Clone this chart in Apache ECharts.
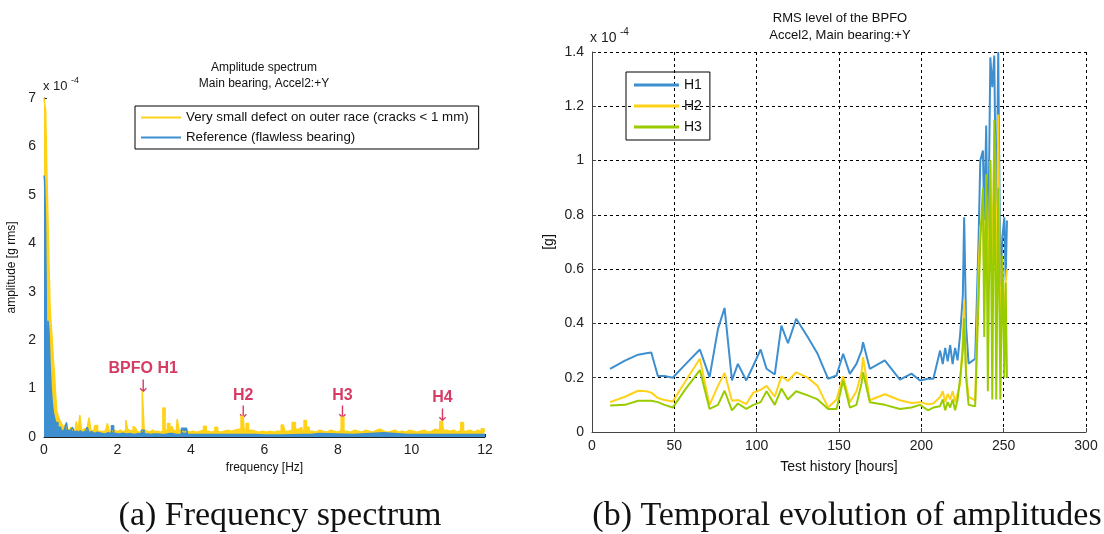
<!DOCTYPE html>
<html>
<head>
<meta charset="utf-8">
<title>BPFO spectrum</title>
<script src="https://cdn.jsdelivr.net/npm/echarts/dist/echarts.min.js"></script>
</head>
<body style="margin:0;background:#fff">
<div id="main" style="width:1104px;height:534px;"></div>
<script type="text/javascript">
// amplitude spectrum, values in 1e-4 g rms : [frequency Hz, amplitude]
var specDefect = [
  [0,7.0],[0.03,6.9],[0.06,6.75],[0.09,5.6],[0.12,4.6],[0.15,3.6],[0.18,2.7],[0.21,2.3],[0.24,2.0],[0.27,1.6],
  [0.3,1.3],[0.33,0.9],[0.36,0.55],[0.4,0.45],[0.45,0.35],[0.5,0.28],[0.55,0.2],[0.6,0.25],[0.65,0.17],[0.7,0.14],
  [0.75,0.2],[0.8,0.15],[0.85,0.13],[0.9,0.32],[0.95,0.14],[1.0,0.45],[1.05,0.13],[1.1,0.17],[1.15,0.14],[1.2,0.2],
  [1.25,0.4],[1.3,0.14],[1.35,0.12],[1.42,0.24],[1.5,0.12],[1.55,0.14],[1.6,0.11],[1.65,0.13],[1.7,0.12],[1.75,0.28],
  [1.8,0.12],[1.85,0.11],[1.9,0.14],[1.95,0.12],[2.0,0.11],[2.05,0.14],[2.1,0.12],[2.15,0.1],[2.2,0.14],[2.25,0.35],
  [2.3,0.16],[2.35,0.12],[2.4,0.14],[2.45,0.22],[2.5,0.18],[2.55,0.12],[2.6,0.1],[2.65,0.12],[2.7,0.95],[2.75,0.16],
  [2.8,0.12],[2.85,0.1],[2.9,0.12],[2.95,0.14],[3.0,0.11],[3.05,0.1],[3.1,0.12],[3.15,0.1],[3.2,0.12],[3.27,0.6],
  [3.32,0.14],[3.4,0.28],[3.45,0.12],[3.5,0.22],[3.55,0.14],[3.6,0.12],[3.65,0.37],[3.7,0.14],[3.75,0.12],[3.8,0.1],
  [3.85,0.14],[3.9,0.12],[3.95,0.1],[4.0,0.12],[4.1,0.1],[4.2,0.12],[4.3,0.14],[4.38,0.22],[4.45,0.12],[4.5,0.1],
  [4.6,0.12],[4.7,0.2],[4.75,0.12],[4.8,0.1],[4.9,0.12],[5.0,0.14],[5.1,0.12],[5.2,0.14],[5.3,0.16],[5.42,0.43],
  [5.47,0.16],[5.53,0.28],[5.6,0.14],[5.7,0.12],[5.8,0.1],[5.9,0.12],[6.0,0.1],[6.1,0.12],[6.2,0.1],[6.3,0.12],
  [6.4,0.12],[6.51,0.25],[6.6,0.12],[6.7,0.14],[6.8,0.3],[6.88,0.16],[6.98,0.2],[7.05,0.14],[7.1,0.34],[7.18,0.2],
  [7.25,0.12],[7.35,0.1],[7.45,0.14],[7.55,0.12],[7.65,0.1],[7.75,0.14],[7.85,0.12],[7.95,0.1],[8.05,0.14],[8.12,0.41],
  [8.2,0.12],[8.3,0.1],[8.4,0.14],[8.5,0.12],[8.6,0.1],[8.7,0.14],[8.8,0.12],[8.9,0.1],[9.0,0.14],[9.1,0.16],
  [9.2,0.12],[9.3,0.1],[9.4,0.12],[9.5,0.14],[9.6,0.1],[9.7,0.12],[9.8,0.1],[9.9,0.14],[10.0,0.12],[10.1,0.1],
  [10.2,0.12],[10.3,0.14],[10.4,0.1],[10.5,0.12],[10.6,0.16],[10.7,0.14],[10.84,0.32],[10.9,0.14],[11.0,0.12],[11.1,0.14],
  [11.2,0.1],[11.3,0.14],[11.38,0.3],[11.45,0.12],[11.55,0.14],[11.65,0.1],[11.75,0.14],[11.85,0.12],[11.95,0.17],[12.0,0.12]
];
var specReference = [
  [0,5.4],[0.03,5.3],[0.05,4.5],[0.07,3.0],[0.085,0.8],[0.1,1.4],[0.12,2.4],[0.15,2.2],[0.18,1.5],[0.21,1.0],
  [0.24,0.7],[0.27,0.5],[0.3,0.4],[0.33,0.3],[0.36,0.3],[0.4,0.2],[0.45,0.2],[0.5,0.12],
  [0.55,0.14],[0.6,0.1],[0.62,0.3],[0.67,0.12],[0.7,0.14],[0.75,0.1],[0.8,0.2],[0.85,0.1],[0.9,0.12],[0.95,0.08],
  [1.0,0.13],[1.05,0.09],[1.1,0.12],[1.15,0.08],[1.2,0.2],[1.25,0.09],[1.3,0.11],[1.35,0.07],[1.4,0.1],[1.5,0.08],
  [1.6,0.06],[1.7,0.09],[1.8,0.07],[1.87,0.23],[1.92,0.07],[2.0,0.06],[2.1,0.08],[2.2,0.06],[2.3,0.07],[2.4,0.05],
  [2.5,0.07],[2.6,0.06],[2.7,0.14],[2.75,0.06],[2.9,0.05],[3.0,0.06],[3.2,0.05],[3.4,0.07],[3.6,0.05],[3.88,0.18],
  [3.93,0.05],[4.2,0.05],[4.5,0.05],[5.0,0.05],[5.5,0.05],[6.0,0.04],[7.0,0.05],[7.5,0.07],[7.55,0.05],[9.25,0.09],
  [9.3,0.05],[10.5,0.05],[12.0,0.05]
];
// harmonic labels : frequency, arrow tip (1e-4)
var harmNames = ['BPFO H1', 'H2', 'H3', 'H4'];
var harmFreq = [2.7, 5.42, 8.12, 10.84];
var harmTip = [0.85, 0.3, 0.3, 0.25];

// RMS level of the BPFO, values in 1e-4 g
var hours = [11, 20, 28, 33, 36, 40, 44, 49, 57, 65.5, 71.4, 76.5, 80.5, 85, 88.6, 93.7, 98, 102.4, 106, 111,
  115, 119, 124, 131, 137, 143.4, 148.5, 152.5, 156.6, 160.6, 163.7, 164.6, 168.7, 177.8, 187, 194, 199.2, 204, 207.3, 211.4,
  213, 214.5, 216, 217.5, 219, 220.5, 222, 223.6, 225.2, 226, 227.2, 228.7, 232.7, 234.8, 235.8, 237.4, 238.2, 239.4, 240.4, 241.9,
  243.1, 244.3, 245.5, 246.7, 248, 249.2, 250.4, 251.2, 252];
var rmsH1 = [0.233, 0.263, 0.285, 0.29, 0.293, 0.206, 0.206, 0.2, 0.251, 0.304, 0.202, 0.38, 0.457, 0.19, 0.251, 0.19, 0.245, 0.304, 0.233, 0.212,
  0.392, 0.327, 0.417, 0.35, 0.288, 0.196, 0.208, 0.288, 0.214, 0.251, 0.3, 0.331, 0.233, 0.264, 0.193, 0.215, 0.19, 0.196, 0.196, 0.3,
  0.25, 0.31, 0.26, 0.32, 0.25, 0.31, 0.264, 0.362, 0.503, 0.791, 0.387, 0.252, 0.27, 0.718, 1.0, 1.037, 0.779, 1.129, 0.558, 1.38,
  1.27, 1.387, 0.718, 1.4, 0.534, 0.718, 0.791, 0.558, 0.779];
var rmsH2 = [0.11, 0.13, 0.152, 0.15, 0.145, 0.125, 0.118, 0.112, 0.19, 0.27, 0.1, 0.17, 0.218, 0.115, 0.118, 0.103, 0.145, 0.155, 0.17, 0.13,
  0.205, 0.188, 0.22, 0.2, 0.17, 0.09, 0.12, 0.205, 0.11, 0.15, 0.22, 0.276, 0.117, 0.139, 0.117, 0.107, 0.11, 0.102, 0.105, 0.129,
  0.15, 0.11, 0.14, 0.12, 0.15, 0.11, 0.141, 0.178, 0.337, 0.485, 0.215, 0.129, 0.117, 0.607, 0.755, 0.8, 0.55, 0.88, 0.48, 1.0,
  0.6, 1.1, 0.5, 1.17, 0.3, 0.6, 0.35, 0.55, 0.6];
var rmsH3 = [0.098, 0.1, 0.115, 0.115, 0.115, 0.11, 0.1, 0.09, 0.16, 0.228, 0.085, 0.1, 0.152, 0.08, 0.105, 0.085, 0.1, 0.11, 0.15, 0.1,
  0.16, 0.12, 0.15, 0.135, 0.12, 0.085, 0.085, 0.19, 0.09, 0.1, 0.18, 0.22, 0.11, 0.1, 0.085, 0.09, 0.1, 0.08, 0.09, 0.095,
  0.12, 0.08, 0.11, 0.09, 0.12, 0.08, 0.12, 0.2, 0.3, 0.42, 0.2, 0.1, 0.095, 0.5, 0.7, 0.9, 0.35, 0.95, 0.15, 1.0,
  0.12, 1.15, 0.12, 0.9, 0.12, 0.65, 0.2, 0.55, 0.2];

var cYellow = '#ffd21a', cBlue = '#3d8fd0', cGreen = '#99cc00', cRed = '#cc0a3c';

function zip(xs, ys) {
  return xs.map(function (x, i) { return [x, ys[i]]; });
}

var myChart = echarts.init(document.getElementById('main'));

var option = {
  animation: false,
  textStyle: { fontFamily: 'Liberation Sans', color: '#222' },
  grid: [
    { left: 44, right: 619, top: 98, bottom: 97 },
    { left: 592, right: 18, top: 52, bottom: 102 }
  ],
  legend: [
    {
      data: ['Very small defect on outer race (cracks < 1 mm)', 'Reference (flawless bearing)'],
      orient: 'vertical', left: 135, top: 106,
      itemWidth: 40, itemHeight: 2, itemGap: 7, icon: 'rect',
      padding: [5, 10, 5, 6], borderColor: '#000', borderWidth: 1,
      textStyle: { fontSize: 13.3, color: '#111' }
    },
    {
      data: ['H1', 'H2', 'H3'],
      orient: 'vertical', left: 626, top: 72,
      itemWidth: 45, itemHeight: 3, itemGap: 7, icon: 'rect',
      padding: [6, 8, 6, 8], borderColor: '#000', borderWidth: 1,
      textStyle: { fontSize: 14, color: '#111' }
    }
  ],
  xAxis: [
    {
      gridIndex: 0, type: 'value', min: 0, max: 12, interval: 2,
      name: 'frequency [Hz]', nameLocation: 'middle', nameGap: 24,
      nameTextStyle: { fontSize: 12, color: '#111' },
      axisLine: { lineStyle: { color: '#222' } },
      axisTick: { inside: true, length: 3, lineStyle: { color: '#222' } },
      axisLabel: { fontSize: 14, color: '#222', margin: 6 },
      splitLine: { show: false }
    },
    {
      gridIndex: 1, type: 'value', min: 0, max: 300, interval: 50,
      name: 'Test history [hours]', nameLocation: 'middle', nameGap: 28,
      nameTextStyle: { fontSize: 14, color: '#111' },
      axisLine: { lineStyle: { color: '#444' } },
      axisTick: { inside: true, length: 4, lineStyle: { color: '#444' } },
      axisLabel: { fontSize: 14, color: '#222', margin: 7 },
      splitLine: { show: true, lineStyle: { color: '#000', type: [3, 3], width: 1 } }
    }
  ],
  yAxis: [
    {
      gridIndex: 0, type: 'value', min: 0, max: 7, interval: 1,
      name: 'amplitude [g rms]', nameLocation: 'middle', nameGap: 26, nameRotate: 90,
      nameTextStyle: { fontSize: 12, color: '#111' },
      axisLine: { show: true, lineStyle: { color: '#222' } },
      axisTick: { show: true, inside: true, length: 3, lineStyle: { color: '#222' } },
      axisLabel: { fontSize: 14, color: '#222', margin: 8 },
      splitLine: { show: false }
    },
    {
      gridIndex: 1, type: 'value', min: 0, max: 1.4, interval: 0.2,
      name: '[g]', nameLocation: 'middle', nameGap: 36, nameRotate: 90,
      nameTextStyle: { fontSize: 14, color: '#111' },
      axisLine: { show: true, lineStyle: { color: '#444' } },
      axisTick: { show: true, inside: true, length: 4, lineStyle: { color: '#444' } },
      axisLabel: { fontSize: 14, color: '#222', margin: 8 },
      splitLine: { show: true, lineStyle: { color: '#000', type: [3, 3], width: 1 } }
    }
  ],
  series: [
    {
      name: 'Very small defect on outer race (cracks < 1 mm)', type: 'line',
      xAxisIndex: 0, yAxisIndex: 0, step: 'middle', symbol: 'none',
      data: specDefect, color: cYellow,
      lineStyle: { width: 1.5, color: cYellow },
      areaStyle: { color: cYellow, opacity: 1 }
    },
    {
      name: 'Reference (flawless bearing)', type: 'line',
      xAxisIndex: 0, yAxisIndex: 0, step: 'middle', symbol: 'none',
      data: specReference, color: cBlue,
      lineStyle: { width: 1.5, color: cBlue },
      areaStyle: { color: cBlue, opacity: 1 }
    },
    {
      name: 'harmonics', type: 'scatter', xAxisIndex: 0, yAxisIndex: 0,
      symbolSize: 0, silent: true,
      data: harmNames.map(function (n, i) { return { name: n, value: [harmFreq[i], harmTip[i]] }; }),
      label: {
        show: true, position: 'top', distance: 0,
        formatter: function (p) { return '{t|' + p.name + '}\n{a|\u2193}'; },
        rich: {
          t: { fontSize: 16, fontWeight: 'bold', color: cRed, lineHeight: 20, fontFamily: 'Liberation Sans' },
          a: { fontSize: 17, color: cRed, lineHeight: 17, fontFamily: 'DejaVu Sans' }
        }
      }
    },
    {
      name: 'H1', type: 'line', xAxisIndex: 1, yAxisIndex: 1, symbol: 'none',
      data: zip(hours, rmsH1), color: cBlue, lineStyle: { width: 2, color: cBlue }
    },
    {
      name: 'H2', type: 'line', xAxisIndex: 1, yAxisIndex: 1, symbol: 'none',
      data: zip(hours, rmsH2), color: cYellow, lineStyle: { width: 2, color: cYellow }
    },
    {
      name: 'H3', type: 'line', xAxisIndex: 1, yAxisIndex: 1, symbol: 'none',
      data: zip(hours, rmsH3), color: cGreen, lineStyle: { width: 2, color: cGreen }
    }
  ],
  graphic: [
    { type: 'text', x: 264, y: 60, style: { text: 'Amplitude spectrum\nMain bearing, Accel2:+Y', align: 'center', fontSize: 12, lineHeight: 16, fill: '#111', fontFamily: 'Liberation Sans' } },
    { type: 'text', x: 840, y: 10, style: { text: 'RMS level of the BPFO\nAccel2, Main bearing:+Y', align: 'center', fontSize: 13, lineHeight: 17, fill: '#111', fontFamily: 'Liberation Sans' } },
    { type: 'text', x: 43, y: 80, style: { text: 'x 10', fontSize: 13, fill: '#222', fontFamily: 'Liberation Sans' } },
    { type: 'text', x: 71, y: 76, style: { text: '-4', fontSize: 9, fill: '#222', fontFamily: 'Liberation Sans' } },
    { type: 'text', x: 590, y: 31, style: { text: 'x 10', fontSize: 14, fill: '#222', fontFamily: 'Liberation Sans' } },
    { type: 'text', x: 620, y: 27, style: { text: '-4', fontSize: 10, fill: '#222', fontFamily: 'Liberation Sans' } },
    { type: 'text', x: 280, y: 499, style: { text: '(a) Frequency spectrum', align: 'center', fontSize: 34, fill: '#111', fontFamily: 'Liberation Serif' } },
    { type: 'text', x: 847, y: 499, style: { text: '(b) Temporal evolution of amplitudes', align: 'center', fontSize: 34, fill: '#111', fontFamily: 'Liberation Serif' } }
  ]
};

myChart.setOption(option);
</script>
</body>
</html>
